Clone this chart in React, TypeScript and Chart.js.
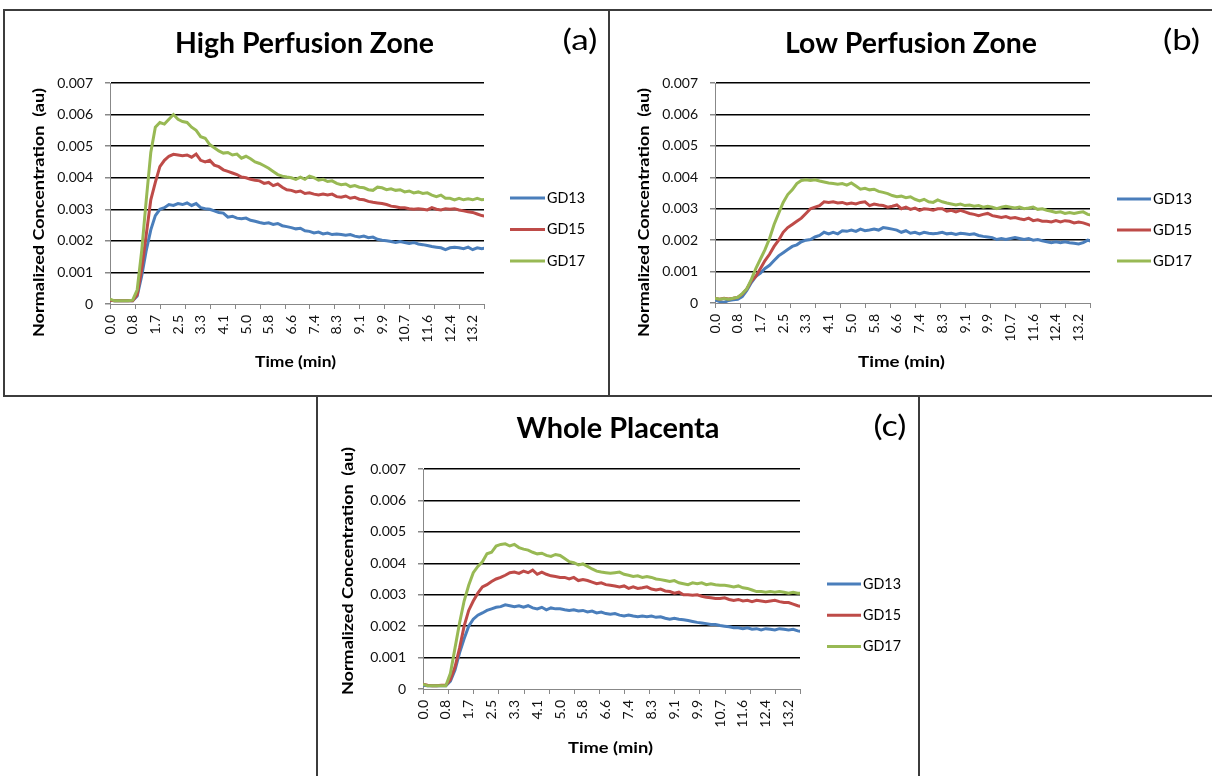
import { useEffect, useRef } from 'react';
import { Chart, registerables } from 'chart.js';

Chart.register(...registerables);

// ---- data ----
const times = [
  0, 0.165, 0.33, 0.495, 0.66, 0.825, 0.99, 1.155, 1.32, 1.485,
  1.65, 1.815, 1.98, 2.145, 2.31, 2.475, 2.64, 2.805, 2.97, 3.135,
  3.3, 3.465, 3.63, 3.795, 3.96, 4.125, 4.29, 4.455, 4.62, 4.785,
  4.95, 5.115, 5.28, 5.445, 5.61, 5.775, 5.94, 6.105, 6.27, 6.435,
  6.6, 6.765, 6.93, 7.095, 7.26, 7.425, 7.59, 7.755, 7.92, 8.085,
  8.25, 8.415, 8.58, 8.745, 8.91, 9.075, 9.24, 9.405, 9.57, 9.735,
  9.9, 10.065, 10.23, 10.395, 10.56, 10.725, 10.89, 11.055, 11.22, 11.385,
  11.55, 11.715, 11.88, 12.045, 12.21, 12.375, 12.54, 12.705, 12.87, 13.035,
  13.2, 13.365, 13.53, 13.695,
];

const xTickLabels = ['0.0', '0.8', '1.7', '2.5', '3.3', '4.1', '5.0', '5.8', '6.6', '7.4', '8.3', '9.1', '9.9', '10.7', '11.6', '12.4', '13.2'];
const yTickLabels = ['0', '0.001', '0.002', '0.003', '0.004', '0.005', '0.006', '0.007'];
const seriesNames = ['GD13', 'GD15', 'GD17'];
const seriesColors = ['#4A7EBB', '#BE4B48', '#98B954'];

// values in units of 0.001 au
const highGD13 = [
  0.12, 0.10, 0.10, 0.10, 0.10, 0.10, 0.25, 0.9, 1.7, 2.35,
  2.8, 3.0, 3.05, 3.15, 3.12, 3.18, 3.15, 3.2, 3.12, 3.18,
  3.05, 3.02, 3.0, 2.95, 2.9, 2.88, 2.75, 2.78, 2.72, 2.7,
  2.72, 2.65, 2.62, 2.58, 2.55, 2.57, 2.52, 2.55, 2.48, 2.45,
  2.42, 2.38, 2.4, 2.32, 2.3, 2.25, 2.28, 2.22, 2.25, 2.2,
  2.22, 2.2, 2.18, 2.2, 2.15, 2.12, 2.15, 2.1, 2.12, 2.05,
  2.02, 2.0, 1.98, 1.95, 1.98, 1.95, 1.92, 1.95, 1.9, 1.88,
  1.85, 1.82, 1.8, 1.78, 1.72, 1.78, 1.8, 1.78, 1.75, 1.8,
  1.72, 1.78, 1.75, 1.78,
];
const highGD15 = [
  0.12, 0.10, 0.10, 0.10, 0.10, 0.10, 0.3, 1.1, 2.2, 3.3,
  3.85, 4.35, 4.55, 4.68, 4.74, 4.72, 4.7, 4.72, 4.65, 4.75,
  4.55, 4.5, 4.55, 4.4, 4.35, 4.25, 4.2, 4.15, 4.1, 4.02,
  4.0, 3.95, 3.92, 3.9, 3.82, 3.85, 3.75, 3.8, 3.7, 3.62,
  3.6, 3.55, 3.58, 3.5, 3.52, 3.48, 3.45, 3.48, 3.45, 3.48,
  3.4, 3.38, 3.42, 3.35, 3.38, 3.32, 3.3, 3.25, 3.22, 3.2,
  3.18, 3.15, 3.1, 3.08, 3.05, 3.05, 3.02, 3.0, 3.02, 3.0,
  2.98, 3.05, 3.0, 2.98, 3.02, 3.0, 3.02, 2.98, 2.95, 2.92,
  2.9, 2.85, 2.8, 2.78,
];
const highGD17 = [
  0.15, 0.10, 0.10, 0.10, 0.10, 0.12, 0.45, 1.7, 3.3, 4.8,
  5.6, 5.75, 5.7, 5.85, 6.0, 5.85, 5.78, 5.75, 5.6, 5.5,
  5.3, 5.25, 5.05, 4.95, 4.85, 4.78, 4.8, 4.72, 4.75, 4.62,
  4.68, 4.6, 4.5, 4.45, 4.38, 4.3, 4.2, 4.1, 4.05, 4.02,
  4.0, 3.95, 4.02, 3.95, 4.05, 4.0, 3.92, 3.95, 3.88, 3.9,
  3.82, 3.78, 3.8, 3.72, 3.75, 3.7, 3.68, 3.62, 3.6, 3.7,
  3.68, 3.62, 3.65, 3.6, 3.62, 3.55, 3.58, 3.52, 3.55, 3.5,
  3.52, 3.45, 3.4, 3.45, 3.35, 3.35, 3.3, 3.35, 3.3, 3.33,
  3.3, 3.35, 3.3, 3.32,
];

const lowGD13 = [
  0.1, 0.05, 0.02, 0.08, 0.1, 0.12, 0.2, 0.4, 0.65, 0.85,
  0.95, 1.1, 1.2, 1.35, 1.5, 1.6, 1.7, 1.8, 1.85, 1.95,
  2.0, 2.02, 2.1, 2.15, 2.25, 2.2, 2.25, 2.2, 2.3, 2.28,
  2.32, 2.28, 2.35, 2.3, 2.32, 2.35, 2.32, 2.4, 2.38, 2.35,
  2.32, 2.25, 2.3, 2.22, 2.25, 2.2, 2.25, 2.22, 2.2, 2.22,
  2.25, 2.2, 2.22, 2.18, 2.22, 2.2, 2.18, 2.2, 2.15, 2.12,
  2.1, 2.08, 2.02, 2.05, 2.02, 2.05, 2.08, 2.05, 2.02, 2.05,
  2.0, 2.02, 1.98, 1.95, 1.92, 1.95, 1.92, 1.95, 1.92, 1.9,
  1.88, 1.92, 2.0, 1.95,
];
const lowGD15 = [
  0.15, 0.12, 0.15, 0.13, 0.15, 0.18, 0.28, 0.45, 0.7, 0.85,
  1.1, 1.35, 1.55, 1.8, 2.0, 2.25, 2.4, 2.5, 2.6, 2.7,
  2.85, 3.0, 3.05, 3.1, 3.22, 3.2, 3.22, 3.18, 3.2, 3.15,
  3.18, 3.15, 3.2, 3.22, 3.1, 3.15, 3.12, 3.1, 3.05, 3.08,
  3.12, 3.0, 3.05, 2.98, 3.02, 2.95, 3.0, 2.98, 2.95, 3.0,
  3.0, 2.92, 2.95, 2.9, 2.95, 2.9, 2.85, 2.82, 2.78, 2.82,
  2.85, 2.78, 2.75, 2.72, 2.75, 2.7, 2.72, 2.68, 2.65, 2.7,
  2.62, 2.65, 2.6, 2.6, 2.58, 2.62, 2.58, 2.62, 2.6, 2.55,
  2.58, 2.55, 2.5, 2.45,
];
const lowGD17 = [
  0.15, 0.12, 0.14, 0.12, 0.15, 0.18, 0.3, 0.45, 0.75, 1.1,
  1.4, 1.7, 2.05, 2.5, 2.85, 3.2, 3.45, 3.6, 3.8, 3.9,
  3.92, 3.9, 3.92, 3.88, 3.85, 3.82, 3.8, 3.78, 3.8, 3.75,
  3.82, 3.72, 3.62, 3.65, 3.6, 3.62, 3.55, 3.52, 3.48, 3.42,
  3.38, 3.4, 3.35, 3.38, 3.3, 3.25, 3.3, 3.22, 3.2, 3.28,
  3.22, 3.18, 3.15, 3.12, 3.15, 3.1, 3.12, 3.08, 3.1, 3.05,
  3.08, 3.05, 3.0, 3.05, 3.08, 3.05, 3.02, 3.05, 3.0, 3.02,
  3.05, 2.98, 3.0, 2.95, 2.92, 2.88, 2.9, 2.85, 2.88, 2.85,
  2.88, 2.9, 2.82, 2.8,
];

const wholeGD13 = [
  0.12, 0.1, 0.1, 0.1, 0.1, 0.1, 0.25, 0.6, 1.15, 1.6,
  2.0, 2.22, 2.35, 2.42, 2.5, 2.55, 2.6, 2.62, 2.68, 2.65,
  2.62, 2.65, 2.6, 2.65, 2.58, 2.55, 2.6, 2.52, 2.58, 2.55,
  2.55, 2.52, 2.5, 2.52, 2.48, 2.5, 2.45, 2.48, 2.42, 2.45,
  2.4, 2.38, 2.4, 2.35, 2.32, 2.35, 2.32, 2.3, 2.32, 2.3,
  2.32, 2.28, 2.3, 2.25, 2.22, 2.25, 2.22, 2.2, 2.18, 2.15,
  2.12, 2.1, 2.08, 2.05, 2.05, 2.02, 2.0, 1.98, 1.95, 1.95,
  1.92, 1.95, 1.9, 1.92, 1.88, 1.92, 1.9, 1.88, 1.92, 1.9,
  1.88, 1.9, 1.85, 1.82,
];
const wholeGD15 = [
  0.15, 0.12, 0.1, 0.1, 0.12, 0.12, 0.3, 0.7, 1.3, 2.0,
  2.5, 2.8, 3.05, 3.25, 3.32, 3.42, 3.5, 3.55, 3.62, 3.7,
  3.72, 3.68, 3.75, 3.7, 3.78, 3.65, 3.72, 3.65, 3.6, 3.58,
  3.55, 3.55, 3.5, 3.55, 3.45, 3.48, 3.45, 3.4, 3.35, 3.38,
  3.32, 3.3, 3.28, 3.25, 3.28, 3.2, 3.25, 3.2, 3.22, 3.25,
  3.18, 3.15, 3.18, 3.12, 3.1, 3.05, 3.08, 3.0, 3.0, 2.98,
  3.0, 2.95, 2.92, 2.9, 2.88, 2.88, 2.9, 2.85, 2.82, 2.85,
  2.8, 2.82, 2.78, 2.82, 2.8, 2.78, 2.8, 2.82, 2.78, 2.75,
  2.75, 2.7, 2.65, 2.62,
];
const wholeGD17 = [
  0.15, 0.1, 0.1, 0.1, 0.1, 0.1, 0.5, 1.3, 2.1, 2.8,
  3.3, 3.7, 3.9, 4.05, 4.3, 4.35, 4.55, 4.6, 4.62, 4.55,
  4.6, 4.5, 4.45, 4.42, 4.35, 4.3, 4.32, 4.25, 4.22, 4.28,
  4.25, 4.15, 4.05, 4.02, 3.95, 3.98, 3.9, 3.82, 3.75, 3.72,
  3.7, 3.68, 3.7, 3.72, 3.65, 3.62, 3.58, 3.6, 3.55, 3.58,
  3.55, 3.5, 3.48, 3.45, 3.42, 3.45, 3.38, 3.35, 3.32, 3.38,
  3.35, 3.38, 3.32, 3.35, 3.32, 3.3, 3.3, 3.28, 3.25, 3.28,
  3.22, 3.2, 3.15, 3.1, 3.1, 3.08, 3.1, 3.08, 3.1, 3.08,
  3.05, 3.08, 3.05, 3.05,
];

// axis constants
const X_MAX = 13.6125;
const X_LABEL_STEP = 0.825;
const X_TICKMARK_STEP = 0.9075;
const Y_MAX = 0.007;
const Y_STEP = 0.001;

const FONT = 'Lato, "Open Sans", sans-serif';

type PanelCfg = {
  id: string;
  left: number; top: number; w: number; h: number;
  area: { left: number; top: number; right: number; bottom: number };
  title: string; titleX: number; titleY: number; titleW: number;
  letter: string; letterX: number; letterY: number; letterW: number;
  yTitleX: number; yTitleY: number; yTitleW: number;
  xTitleX: number; xTitleY: number; xTitleW: number;
  legLineX: number; legLineW: number; legTextX: number; legTextW: number; legY0: number; legDY: number;
  series: number[][];
};

const panels: PanelCfg[] = [
  {
    id: 'a', left: 4, top: 10, w: 605, h: 386,
    area: { left: 106, top: 73, right: 480, bottom: 294 },
    title: 'High Perfusion Zone', titleX: 300.5, titleY: 43, titleW: 259,
    letter: '(a)', letterX: 576, letterY: 40, letterW: 35,
    yTitleX: 35, yTitleY: 202.5, yTitleW: 249,
    xTitleX: 291.5, xTitleY: 352, xTitleW: 81,
    legLineX: 506, legLineW: 35, legTextX: 543, legTextW: 38, legY0: 188, legDY: 31.5,
    series: [highGD13, highGD15, highGD17],
  },
  {
    id: 'b', left: 609, top: 10, w: 603, h: 386,
    area: { left: 106, top: 73, right: 481, bottom: 293 },
    title: 'Low Perfusion Zone', titleX: 302, titleY: 43, titleW: 252,
    letter: '(b)', letterX: 572.5, letterY: 40, letterW: 37,
    yTitleX: 35, yTitleY: 202.5, yTitleW: 249,
    xTitleX: 292.5, xTitleY: 352, xTitleW: 87,
    legLineX: 508, legLineW: 34, legTextX: 544, legTextW: 39, legY0: 189, legDY: 31,
    series: [lowGD13, lowGD15, lowGD17],
  },
  {
    id: 'c', left: 317, top: 396, w: 603, h: 380,
    area: { left: 106, top: 73, right: 483, bottom: 293 },
    title: 'Whole Placenta', titleX: 301, titleY: 42, titleW: 203,
    letter: '(c)', letterX: 573, letterY: 40, letterW: 33,
    yTitleX: 31, yTitleY: 175, yTitleW: 248,
    xTitleX: 293.5, xTitleY: 352, xTitleW: 85,
    legLineX: 510, legLineW: 34, legTextX: 546, legTextW: 38, legY0: 188, legDY: 31.3,
    series: [wholeGD13, wholeGD15, wholeGD17],
  },
];

function drawFit(
  ctx: CanvasRenderingContext2D, text: string, x: number, y: number, font: string,
  width: number, align: CanvasTextAlign, baseline: CanvasTextBaseline, rot = 0,
) {
  ctx.save();
  ctx.font = font;
  const w = ctx.measureText(text).width;
  const s = width > 0 && w > 0 ? width / w : 1;
  ctx.translate(x, y);
  if (rot) ctx.rotate(rot);
  ctx.scale(s, 1);
  ctx.textAlign = align;
  ctx.textBaseline = baseline;
  ctx.fillStyle = '#000';
  ctx.fillText(text, 0, 0);
  ctx.restore();
}

function PanelChart({ cfg }: { cfg: PanelCfg }) {
  const ref = useRef<HTMLCanvasElement>(null);
  useEffect(() => {
    const canvas = ref.current;
    if (!canvas) return;
    const textPlugin = {
      id: 'panelText' + cfg.id,
      afterDraw(chart: any) {
        const ctx: CanvasRenderingContext2D = chart.ctx;
        const xs = chart.scales.x;
        const ca = chart.chartArea;
        // x-axis tick marks
        ctx.save();
        ctx.strokeStyle = '#888888';
        ctx.lineWidth = 1;
        for (let k = 0; k * X_TICKMARK_STEP <= X_MAX + 1e-6; k++) {
          const px = Math.round(xs.getPixelForValue(k * X_TICKMARK_STEP)) + 0.5;
          ctx.beginPath();
          ctx.moveTo(px, ca.bottom);
          ctx.lineTo(px, ca.bottom + 5);
          ctx.stroke();
        }
        ctx.restore();
        // titles
        drawFit(ctx, cfg.title, cfg.titleX, cfg.titleY, `bold 28px ${FONT}`, cfg.titleW, 'center', 'alphabetic');
        drawFit(ctx, cfg.letter, cfg.letterX, cfg.letterY, `28px ${FONT}`, cfg.letterW, 'center', 'alphabetic');
        drawFit(ctx, 'Normalized Concentration  (au)', cfg.yTitleX, cfg.yTitleY, `bold 15px ${FONT}`, cfg.yTitleW, 'center', 'middle', -Math.PI / 2);
        drawFit(ctx, 'Time (min)', cfg.xTitleX, cfg.xTitleY, `bold 15px ${FONT}`, cfg.xTitleW, 'center', 'middle');
        // legend
        chart.data.datasets.forEach((ds: any, k: number) => {
          const y = cfg.legY0 + k * cfg.legDY;
          ctx.save();
          ctx.strokeStyle = ds.borderColor;
          ctx.lineWidth = 3;
          ctx.beginPath();
          ctx.moveTo(cfg.legLineX, y);
          ctx.lineTo(cfg.legLineX + cfg.legLineW, y);
          ctx.stroke();
          ctx.restore();
          drawFit(ctx, ds.label, cfg.legTextX, y, `15px ${FONT}`, cfg.legTextW, 'left', 'middle');
        });
      },
    };

    const chart = new Chart(canvas, {
      type: 'line',
      data: {
        datasets: cfg.series.map((vals, k) => ({
          label: seriesNames[k],
          data: vals.map((v, i) => ({ x: times[i], y: v / 1000 })),
          borderColor: seriesColors[k],
          backgroundColor: seriesColors[k],
          borderWidth: 3,
          pointRadius: 0,
          tension: 0,
          fill: false,
          order: 2 - k,
        })),
      },
      options: {
        responsive: false,
        animation: false,
        events: [],
        layout: { padding: { top: cfg.area.top, right: cfg.w - cfg.area.right, bottom: 0, left: 0 } },
        plugins: { legend: { display: false }, title: { display: false }, tooltip: { enabled: false } },
        scales: {
          x: {
            type: 'linear',
            min: 0,
            max: X_MAX,
            afterFit: (s: any) => { s.height = cfg.h - cfg.area.bottom; },
            grid: { display: false, drawTicks: false },
            border: { display: true, color: '#888888', width: 1 },
            ticks: {
              stepSize: X_LABEL_STEP,
              autoSkip: false,
              includeBounds: false,
              minRotation: 90,
              maxRotation: 90,
              padding: 11,
              color: '#111',
              font: { family: FONT, size: 14 },
              callback: (_v: any, i: number) => xTickLabels[i] ?? '',
            },
          },
          y: {
            type: 'linear',
            min: 0,
            max: Y_MAX,
            afterFit: (s: any) => { s.width = cfg.area.left; },
            grid: {
              color: (c: any) => (c.tick && c.tick.value === 0 ? 'rgba(0,0,0,0)' : '#000000'),
              lineWidth: 1.5,
              tickColor: '#888888',
              tickLength: 5,
              drawTicks: true,
            },
            border: { display: true, color: '#888888', width: 1 },
            ticks: {
              stepSize: Y_STEP,
              padding: 12,
              color: '#111',
              font: { family: FONT, size: 14 },
              callback: (_v: any, i: number) => yTickLabels[i] ?? '',
            },
          },
        },
      } as any,
      plugins: [textPlugin],
    });
    return () => chart.destroy();
  }, [cfg]);

  return (
    <canvas
      ref={ref}
      width={cfg.w}
      height={cfg.h}
      style={{ position: 'absolute', left: cfg.left, top: cfg.top, width: cfg.w, height: cfg.h }}
    />
  );
}

export default function App() {
  const border = '2px solid #3c3c3c';
  return (
    <div style={{ position: 'fixed', left: 0, top: 0, width: 1212, height: 776, background: '#fff', overflow: 'hidden' }}>
      {panels.map((p) => (
        <PanelChart key={p.id} cfg={p} />
      ))}
      <div style={{ position: 'absolute', left: 3, top: 9, width: 607, height: 388, border, boxSizing: 'border-box', pointerEvents: 'none' }} />
      <div style={{ position: 'absolute', left: 608, top: 9, width: 620, height: 388, border, boxSizing: 'border-box', pointerEvents: 'none' }} />
      <div style={{ position: 'absolute', left: 316, top: 395, width: 604, height: 400, border, boxSizing: 'border-box', pointerEvents: 'none' }} />
    </div>
  );
}
